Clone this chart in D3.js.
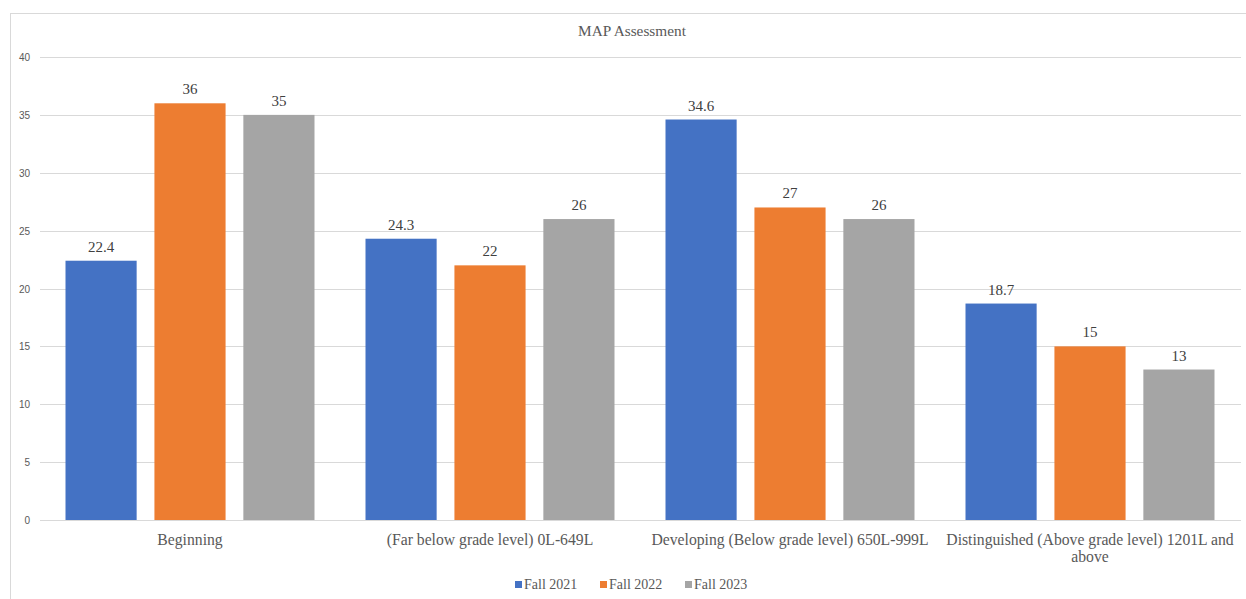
<!DOCTYPE html>
<html><head><meta charset="utf-8">
<script src="https://cdn.jsdelivr.net/npm/d3@7/dist/d3.min.js"></script>
<style>body{margin:0;background:#fff}svg{display:block}</style>
</head><body>
<svg id="c" width="1246" height="599"></svg>
<script>
const categories = ["Beginning", "(Far below grade level) 0L-649L", "Developing (Below grade level) 650L-999L", "Distinguished (Above grade level) 1201L and above"];
const seriesNames = ["Fall 2021", "Fall 2022", "Fall 2023"];
const fall2021 = [22.4, 24.3, 34.6, 18.7];
const fall2022 = [36, 22, 27, 15];
const fall2023 = [35, 26, 26, 13];
const yTicks = [0, 5, 10, 15, 20, 25, 30, 35, 40];
const colors = ["#4472C4", "#ED7D31", "#A5A5A5"];
const series = [fall2021, fall2022, fall2023];

const svg = d3.select("#c");
const serif = "'Liberation Serif','Times New Roman',serif";
// frame
svg.append("line").attr("x1",10).attr("x2",1246).attr("y1",13.5).attr("y2",13.5).attr("stroke","#d9d9d9");
svg.append("line").attr("x1",10.5).attr("x2",10.5).attr("y1",13).attr("y2",599).attr("stroke","#d9d9d9");

const x0 = d3.scaleBand().domain(categories).range([40,1240]);
const x1 = d3.scaleBand().domain(seriesNames).range([25.5, 274.5]).paddingInner(0.2);
const y = d3.scaleLinear().domain([0,40]).range([520,57]);

// grid
svg.append("g").selectAll("line").data(yTicks).join("line")
  .attr("x1",40).attr("x2",1241).attr("y1",d=>Math.round(y(d))+0.5).attr("y2",d=>Math.round(y(d))+0.5)
  .attr("stroke","#d9d9d9").attr("stroke-width",1);
svg.append("g").selectAll("text").data(yTicks).join("text")
  .attr("x",30).attr("y",d=>y(d)+4).attr("text-anchor","end")
  .attr("font-family","'Liberation Sans',Arial,sans-serif").attr("font-size",10).attr("fill","#595959")
  .text(d=>d);

// bars
const g = svg.append("g");
categories.forEach((c,i)=>{
  series.forEach((s,j)=>{
    const bx = x0(c)+x1(seriesNames[j]);
    g.append("rect").attr("x",bx).attr("y",y(s[i])).attr("width",x1.bandwidth()).attr("height",y(0)-y(s[i])).attr("fill",colors[j]);
    g.append("text").attr("x",bx+x1.bandwidth()/2).attr("y",y(s[i])-9).attr("text-anchor","middle")
      .attr("font-family",serif).attr("font-size",15).attr("fill","#404040").text(s[i]);
  });
});

// category labels with wrap
categories.forEach(c=>{
  const t = svg.append("text").attr("text-anchor","middle").attr("font-family",serif).attr("font-size",15.7).attr("fill","#595959");
  const cx = x0(c)+x0.bandwidth()/2;
  const words = c.split(" ");
  let line = [], lines = [];
  const tmp = t.append("tspan");
  words.forEach(w=>{
    line.push(w);
    tmp.text(line.join(" "));
    if (tmp.node().getComputedTextLength() > 300 && line.length>1) {
      line.pop(); lines.push(line.join(" ")); line=[w];
    }
  });
  lines.push(line.join(" "));
  tmp.remove();
  lines.forEach((l,k)=>{
    t.append("tspan").attr("x",cx).attr("y",545+k*17).text(l);
  });
});

// title
svg.append("text").attr("x",632).attr("y",36).attr("text-anchor","middle").attr("font-family",serif).attr("font-size",15.3).attr("fill","#595959").text("MAP Assessment");

// legend
const lx = [515, 600, 685];
seriesNames.forEach((n,j)=>{
  svg.append("rect").attr("x",lx[j]).attr("y",581).attr("width",7).attr("height",7).attr("fill",colors[j]);
  svg.append("text").attr("x",lx[j]+9).attr("y",589).attr("font-family",serif).attr("font-size",14).attr("fill","#595959").text(n);
});
</script>
</body></html>
